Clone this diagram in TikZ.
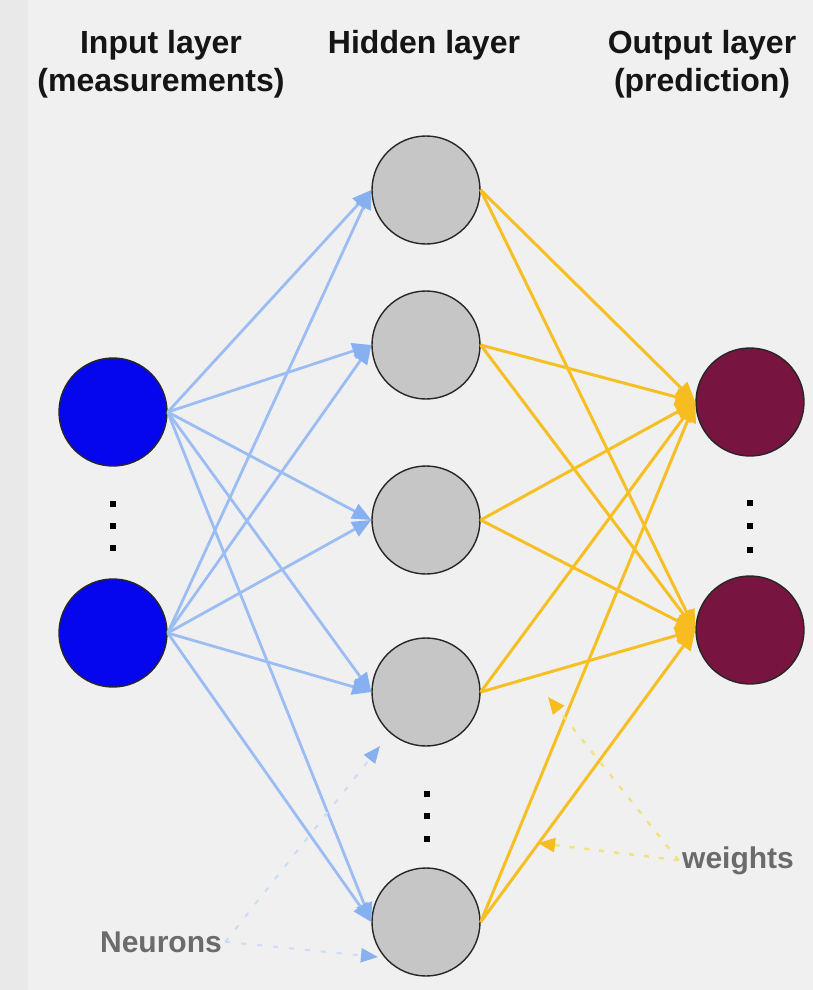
\documentclass[tikz,border=0pt]{standalone}
\usepackage{fontspec}
\setmainfont{Liberation Sans}
\usetikzlibrary{arrows.meta}

\definecolor{panelgrey}{HTML}{F0F0F0}
\definecolor{stripgrey}{HTML}{E9E9E9}
\definecolor{inblue}{HTML}{0505EE}
\definecolor{hidgrey}{HTML}{C6C6C6}
\definecolor{outmaroon}{HTML}{781440}
\definecolor{edgeblue}{HTML}{9CBDF3}
\definecolor{tipblue}{HTML}{86B0F0}
\definecolor{edgegold}{HTML}{F6BF24}
\definecolor{tipgold}{HTML}{F6BC20}
\definecolor{pointblue}{HTML}{CADCF6}
\definecolor{pointgold}{HTML}{F2E27A}
\definecolor{titletext}{HTML}{151515}
\definecolor{notetext}{HTML}{6B6B6B}

\tikzset{
  neuron/.style={circle, draw=black!85, line width=1.4pt, minimum size=108pt, inner sep=0pt},
  inneuron/.style={neuron, fill=inblue},
  hidneuron/.style={neuron, fill=hidgrey},
  outneuron/.style={neuron, fill=outmaroon},
  dotsq/.style={rectangle, fill=black, minimum size=6pt, inner sep=0pt},
  title/.style={font=\fontsize{32}{38}\selectfont\bfseries, text=titletext, anchor=base, inner sep=0pt},
  note/.style={font=\fontsize{30}{36}\selectfont\bfseries, text=notetext, anchor=base},
  bluearrow/.style={draw=edgeblue, line width=2.8pt,
    -{Triangle[length=19pt,width=16pt,color=tipblue,fill=tipblue]}},
  goldarrow/.style={draw=edgegold, line width=3pt,
    -{Triangle[length=20pt,width=17pt,color=tipgold,fill=tipgold]}},
  bluepointer/.style={draw=pointblue, line width=2pt, dash pattern=on 5pt off 11pt,
    -{Triangle[length=17pt,width=14pt,color=tipblue,fill=tipblue]}},
  goldpointer/.style={draw=pointgold, line width=2.4pt, dash pattern=on 5pt off 10pt,
    -{Triangle[length=17pt,width=14pt,color=tipgold,fill=tipgold]}},
}

\begin{document}
\begin{tikzpicture}[x=1pt, y=-1pt]
  \useasboundingbox (0,0) rectangle (813,990);
  % backdrop
  \fill[panelgrey] (0,0) rectangle (813,990);
  \fill[stripgrey] (0,0) rectangle (28,990);

  % column headings
  \node[title] (tin1) at (161,53) {Input layer};
  \node[title] (tin2) at (161,91) {(measurements)};
  \node[title] (thid) at (424,53) {Hidden layer};
  \node[title] (tout1) at (702,53) {Output layer};
  \node[title] (tout2) at (702,91) {(prediction)};

  % input layer
  \node[inneuron] (in1) at (113,412) {};
  \node[inneuron] (in2) at (113,633) {};
  \node[dotsq] (idot1) at (113,504) {};
  \node[dotsq] (idot2) at (113,526) {};
  \node[dotsq] (idot3) at (113,548) {};

  % hidden layer
  \node[hidneuron] (h1) at (426,190) {};
  \node[hidneuron] (h2) at (426,345) {};
  \node[hidneuron] (h3) at (426,520) {};
  \node[hidneuron] (h4) at (426,692) {};
  \node[hidneuron] (h5) at (426,922) {};
  \node[dotsq] (hdot1) at (427,794) {};
  \node[dotsq] (hdot2) at (427,816) {};
  \node[dotsq] (hdot3) at (427,839) {};

  % output layer
  \node[outneuron] (out1) at (750,402) {};
  \node[outneuron] (out2) at (750,630) {};
  \node[dotsq] (odot1) at (750,503) {};
  \node[dotsq] (odot2) at (750,526) {};
  \node[dotsq] (odot3) at (750,550) {};

  % input -> hidden connections
  \foreach \i in {1,2}
    \foreach \j in {1,...,5}
      \draw[bluearrow] (in\i.east) -- (h\j.west);

  % hidden -> output connections
  \foreach \j in {1,...,5}
    \foreach \k in {1,2}
      \draw[goldarrow] (h\j.east) -- (out\k.west);

  % annotations
  \node[note] (neurons) at (161,952) {Neurons};
  \coordinate (ntip4) at (380,746);
  \coordinate (ntip5) at (378,957);
  \draw[bluepointer] (neurons.east) -- (ntip4);
  \draw[bluepointer] (neurons.east) -- (ntip5);

  \node[note] (weights) at (738,868) {weights};
  \coordinate (wtip1) at (548,697);
  \coordinate (wtip2) at (538,843);
  \draw[goldpointer] (weights.west) -- (wtip1);
  \draw[goldpointer] (weights.west) -- (wtip2);
\end{tikzpicture}
\end{document}
